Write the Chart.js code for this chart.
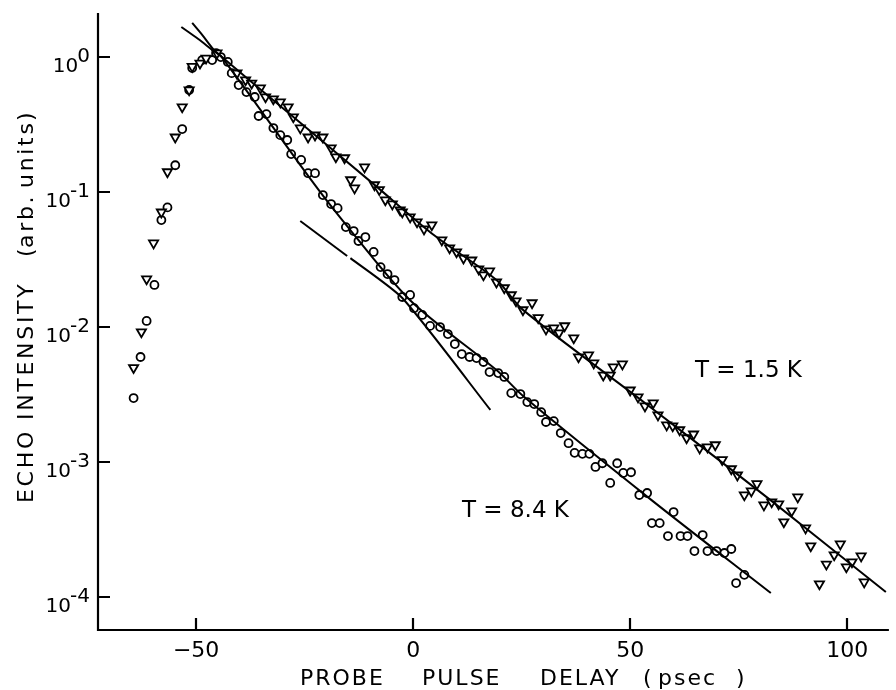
<!DOCTYPE html>
<html>
<head>
<meta charset="utf-8">
<script src="https://cdn.jsdelivr.net/npm/chart.js@4.4.0/dist/chart.umd.min.js"></script>
<style>
  html, body { margin: 0; padding: 0; background: #fff; }
  #chart { display: block; }
</style>
</head>
<body>
<canvas id="chart" width="896" height="690"></canvas>
<script>
'use strict';

// T = 1.5 K (triangles)
const TRI_X = [-64.4, -62.6, -61.4, -59.8, -58.0, -56.6, -54.8, -53.2, -51.6, -50.9, -49.1, -47.7, -45.2,
    -40.6, -38.6, -37.2, -35.2, -34.0, -32.2, -30.6, -28.8, -27.6, -26.0, -24.2, -22.6, -20.8, -18.9, -17.8,
    -15.8, -14.4, -13.5, -11.2, -8.9, -7.8, -6.4, -4.8, -3.0, -2.5, -0.7, 0.9, 2.5, 4.3, 6.6, 8.4, 10.0, 11.6,
    13.5, 15.1, 16.2, 17.6, 19.2, 21.0, 22.6, 23.7, 25.3, 27.4, 28.8, 30.6, 32.4, 33.6, 34.9, 37.0, 38.1, 40.4,
    41.6, 43.8, 45.4, 46.1, 48.2, 50.0, 51.8, 53.4, 55.3, 56.4, 58.4, 59.8, 61.4, 63.0, 64.6, 66.0, 67.8, 69.6,
    71.2, 73.3, 74.7, 76.3, 77.9, 79.2, 80.8, 82.6, 84.2, 85.4, 87.2, 88.6, 90.4, 91.6, 93.6, 95.2, 97.0, 98.4,
    99.8, 101.1, 103.2, 103.9];
const TRI_Y = [5.0e-3, 9.2e-3, 2.27e-2, 4.19e-2, 7.1e-2, 0.141, 0.255, 0.427, 0.57, 0.85, 0.90, 0.98, 1.07,
    0.76, 0.676, 0.64, 0.589, 0.506, 0.489, 0.464, 0.427, 0.36, 0.298, 0.255, 0.264, 0.255, 0.212, 0.182,
    0.179, 0.123, 0.107, 0.153, 0.113, 0.104, 0.0873, 0.0815, 0.0736, 0.0711, 0.0653, 0.060, 0.0532, 0.057,
    0.0441, 0.0385, 0.036, 0.0324, 0.0313, 0.0269, 0.0243, 0.026, 0.0215, 0.0195, 0.0173, 0.0156, 0.0134,
    0.0151, 0.0117, 0.00966, 0.00984, 0.00904, 0.0102, 0.0083, 0.006, 0.00621, 0.00541, 0.0044, 0.0044,
    0.00506, 0.00532, 0.00341, 0.00303, 0.0026, 0.00274, 0.00223, 0.00188, 0.00185, 0.00173, 0.00151, 0.00161,
    0.00127, 0.00129, 0.00134, 0.00104, 8.9e-4, 8.0e-4, 5.7e-4, 6.1e-4, 6.9e-4, 4.8e-4, 5.06e-4, 4.89e-4,
    3.6e-4, 4.34e-4, 5.5e-4, 3.24e-4, 2.39e-4, 1.25e-4, 1.75e-4, 2.05e-4, 2.47e-4, 1.67e-4, 1.82e-4, 2.01e-4,
    1.29e-4];

// T = 8.4 K (circles)
const CIRC_X = [-64.4, -62.8, -61.4, -59.6, -58.0, -56.6, -54.8, -53.2, -51.6, -50.9, -48.6, -46.3, -45.4,
    -44.3, -42.7, -41.8, -40.2, -38.4, -36.5, -35.6, -33.8, -32.2, -30.6, -29.0, -28.1, -25.8, -24.2, -22.6,
    -20.8, -18.9, -17.4, -15.5, -13.7, -12.6, -11.0, -9.1, -7.5, -5.9, -4.3, -2.5, -0.7, 0.2, 2.1, 3.9, 6.2,
    8.0, 9.6, 11.2, 13.0, 14.6, 16.2, 17.6, 19.6, 21.0, 22.6, 24.7, 26.3, 27.9, 29.5, 30.6, 32.4, 34.0, 35.8,
    37.2, 39.0, 40.6, 42.0, 43.6, 45.4, 47.0, 48.4, 50.2, 52.1, 53.9, 55.0, 56.8, 58.7, 60.0, 61.6, 63.2, 64.8,
    66.7, 67.8, 69.9, 71.7, 73.3, 74.4, 76.3];
const CIRC_Y = [2.98e-3, 6.0e-3, 1.11e-2, 2.05e-2, 6.2e-2, 7.7e-2, 0.158, 0.293, 0.57, 0.83, 0.95, 0.95, 1.07,
    1.0, 0.92, 0.76, 0.62, 0.55, 0.506, 0.366, 0.378, 0.298, 0.264, 0.243, 0.191, 0.173, 0.138, 0.138, 0.095,
    0.0815, 0.076, 0.055, 0.0514, 0.0434, 0.0464, 0.036, 0.0278, 0.0247, 0.0223, 0.0167, 0.0173, 0.0138,
    0.0123, 0.0102, 0.01, 0.00887, 0.00748, 0.00631, 0.006, 0.00589, 0.00551, 0.00464, 0.00456, 0.00427,
    0.00324, 0.00319, 0.00278, 0.00269, 0.00234, 0.00198, 0.00201, 0.00164, 0.00138, 0.00117, 0.00115,
    0.00115, 9.2e-4, 9.8e-4, 7.0e-4, 9.8e-4, 8.3e-4, 8.4e-4, 5.7e-4, 5.9e-4, 3.53e-4, 3.53e-4, 2.83e-4,
    4.26e-4, 2.83e-4, 2.83e-4, 2.19e-4, 2.88e-4, 2.19e-4, 2.19e-4, 2.12e-4, 2.27e-4, 1.27e-4, 1.46e-4];

// fitted curves
const FIT15_X = [-50.9, -48.6, -46.3, -45.4, -30.0, -8.9, 5.0, 19.2, 25.3, 53.4, 75.6, 82.4, 108.9];
const FIT15_Y = [1.79, 1.46, 1.17, 1.09, 0.418, 0.113, 0.0474, 0.0223, 0.0134, 2.74e-3, 7.7e-4, 5.2e-4, 1.09e-4];
const FIT84_X = [-53.4, -49.5, -46.3, -44.1, -23.5, -16.7, -0.7, 19.2, 25.6, 55.0, 82.4];
const FIT84_Y = [1.67, 1.36, 1.13, 1.0, 0.123, 0.0642, 0.0158, 4.8e-3, 3.03e-3, 5.2e-4, 1.07e-4];

// straight line pieces under the 8.4 K curve
const LINE_A_X = [-26.0, -15.2];
const LINE_A_Y = [0.061, 0.0336];
const LINE_B_X = [-14.45, -2.5, 17.8];
const LINE_B_Y = [0.0324, 0.0164, 2.43e-3];

// axes
const X_TICKS = [-50, 0, 50, 100];
const Y_TICKS = [1e-4, 1e-3, 1e-2, 1e-1, 1];
const Y_TICK_EXP = ['-4', '-3', '-2', '-1', '0'];

const FONT = '"DejaVu Sans", sans-serif';


function points(xs, ys) {
    const out = [];
    for (let i = 0; i < xs.length; i++) {
        out.push({ x: xs[i], y: ys[i] });
    }
    return out;
}

function lineSet(xs, ys) {
    return {
        data: points(xs, ys),
        showLine: true,
        pointRadius: 0,
        borderColor: '#000',
        borderWidth: 2,
        tension: 0.3,
        fill: false
    };
}

// axes, inward ticks, labels and titles are drawn by hand
const frame = {
    id: 'frame',
    afterDraw(chart) {
        const ctx = chart.ctx;
        const xs = chart.scales.x;
        const ys = chart.scales.y;
        const a = chart.chartArea;

        ctx.save();
        ctx.strokeStyle = '#000';
        ctx.fillStyle = '#000';
        ctx.lineWidth = 2.2;
        ctx.beginPath();
        ctx.moveTo(a.left, a.top);
        ctx.lineTo(a.left, a.bottom);
        ctx.lineTo(a.right, a.bottom);
        ctx.stroke();

        // y ticks
        ctx.beginPath();
        for (const v of Y_TICKS) {
            const py = Math.round(ys.getPixelForValue(v));
            ctx.moveTo(a.left, py);
            ctx.lineTo(a.left + 12, py);
        }
        // x ticks
        for (const v of X_TICKS) {
            const px = Math.round(xs.getPixelForValue(v));
            ctx.moveTo(px, a.bottom);
            ctx.lineTo(px, a.bottom - 12);
        }
        ctx.stroke();

        // y labels: 10 with exponent
        ctx.textBaseline = 'alphabetic';
        for (let i = 0; i < Y_TICKS.length; i++) {
            const py = ys.getPixelForValue(Y_TICKS[i]);
            ctx.font = '20px ' + FONT;
            const w = ctx.measureText(Y_TICK_EXP[i]).width;
            const ex = 90 - w;
            ctx.textAlign = 'left';
            ctx.fillText(Y_TICK_EXP[i], ex, py + 5);
            ctx.textAlign = 'right';
            ctx.fillText('10', ex + 1, py + 15);
        }

        // x labels
        ctx.font = '22px ' + FONT;
        ctx.textAlign = 'center';
        for (const v of X_TICKS) {
            const label = v < 0 ? '\u2212' + Math.abs(v) : String(v);
            ctx.fillText(label, xs.getPixelForValue(v), 657);
        }

        // x title, word by word
        ctx.textAlign = 'left';
        ctx.font = '22px ' + FONT;
        ctx.letterSpacing = '2px';
        const xWords = [['PROBE', 300], ['PULSE', 422], ['DELAY', 540], ['(', 643], ['psec', 658], [')', 736]];
        for (const [w, px] of xWords) {
            ctx.fillText(w, px, 685);
        }

        // y title, rotated
        ctx.save();
        ctx.translate(33, 0);
        ctx.rotate(-Math.PI / 2);
        ctx.letterSpacing = '2.7px';
        const yWords = [['ECHO', 503], ['INTENSITY', 420], ['(', 257], ['arb.', 248], ['units', 188], [')', 121]];
        for (const [w, py] of yWords) {
            ctx.fillText(w, -py, 0);
        }
        ctx.restore();

        // temperature labels
        ctx.letterSpacing = '0px';
        ctx.font = '23px ' + FONT;
        ctx.fillText('T = 1.5 K', 695, 377);
        ctx.fillText('T = 8.4 K', 462, 517);

        ctx.restore();
    }
};


const config = {
    type: 'scatter',
    data: {
        datasets: [
            lineSet(FIT15_X, FIT15_Y),
            lineSet(FIT84_X, FIT84_Y),
            Object.assign(lineSet(LINE_A_X, LINE_A_Y), { tension: 0 }),
            Object.assign(lineSet(LINE_B_X, LINE_B_Y), { tension: 0.2 }),
            {
                data: points(TRI_X, TRI_Y),
                pointStyle: 'triangle',
                rotation: 180,
                pointRadius: 5.3,
                borderColor: '#000',
                backgroundColor: '#fff',
                borderWidth: 1.8
            },
            {
                data: points(CIRC_X, CIRC_Y),
                pointStyle: 'circle',
                pointRadius: 4,
                borderColor: '#000',
                backgroundColor: '#fff',
                borderWidth: 1.8
            }
        ]
    },
    options: {
        responsive: false,
        animation: false,
        devicePixelRatio: 1,
        layout: {
            padding: { left: 98, right: 0, top: 13, bottom: 60 }
        },
        plugins: {
            legend: { display: false },
            tooltip: { enabled: false }
        },
        scales: {
            x: {
                type: 'linear',
                display: false,
                min: -72.6,
                max: 109.6
            },
            y: {
                type: 'logarithmic',
                display: false,
                min: 5.7e-5,
                max: 2.12
            }
        }
    },
    plugins: [frame]
};

new Chart(document.getElementById('chart'), config);
</script>
</body>
</html>
